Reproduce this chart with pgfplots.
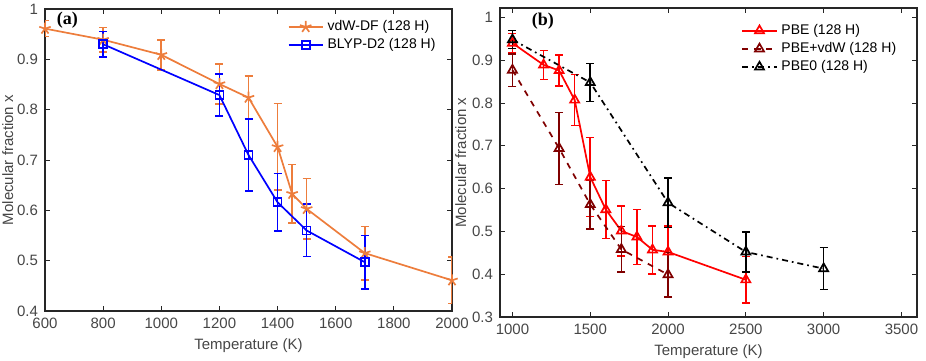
\documentclass[border=0pt]{standalone}
\usepackage{pgfplots}
\pgfplotsset{compat=1.18}
\usepackage{fontspec}
\setmainfont{Liberation Sans}
\newfontfamily\labfont{Liberation Serif}

\definecolor{axgray}{RGB}{38,38,38}
\definecolor{tkgray}{RGB}{70,70,70}
\definecolor{vdworange}{RGB}{237,125,60}
\definecolor{pbedark}{RGB}{128,0,0}

\pgfplotsset{
  matlab/.style={
    scale only axis,
    anchor=south west,
    axis line style={axgray, line width=0.6pt},
    tick style={axgray, line width=0.5pt},
    major tick length=2.5pt,
    tick align=inside,
    xtick pos=both, ytick pos=both,
    font=\fontsize{7.5}{9}\selectfont,
    tick label style={tkgray},
    label style={tkgray},
    /pgf/number format/assume math mode=true,
    /pgf/number format/1000 sep={},
    /pgf/number format/fixed,
    xlabel={Temperature (K)},
    ylabel={Molecular fraction x},
    xlabel style={yshift=2pt},
    legend cell align=left,
    legend style={draw=none, fill=none, font=\fontsize{7}{8.5}\selectfont,
      row sep=-1.5pt},
    every axis plot/.append style={line width=0.85pt},
    error bars/error bar style={line width=0.8pt, solid},
    error bars/error mark=-,
    error bars/error mark options={rotate=90, line width=0.8pt, mark size=2pt, solid},
  },
}

\begin{document}
\begin{tikzpicture}
\path[use as bounding box] (0pt,0pt) rectangle (463pt,180pt);

% ---- panel (a)
\begin{axis}[matlab,
  at={(22.5pt,24.5pt)}, width=203.5pt, height=151pt,
  xmin=600, xmax=2000, ymin=0.4, ymax=1,
  xtick={600,800,...,2000}, ytick={0.4,0.5,...,1.0},
  ylabel style={yshift=-5pt},
  legend style={at={(0.985,0.99)}, anchor=north east},
]
\addplot[color=vdworange, mark=star, mark size=3pt,
  error bars/.cd, y dir=both, y explicit]
  table[x=T, y=x, y error=e] {
T    x     e
600  0.961 0.016
800  0.939 0.024
1000 0.909 0.030
1200 0.851 0.040
1300 0.824 0.043
1400 0.726 0.086
1450 0.633 0.058
1500 0.603 0.060
1700 0.515 0.053
2000 0.461 0.046
};
\addlegendentry{vdW-DF (128 H)}
\addplot[color=blue, mark=square, mark size=2pt,
  error bars/.cd, y dir=both, y explicit]
  table[x=T, y=x, y error=e] {
T    x     e
800  0.930 0.025
1200 0.829 0.042
1300 0.710 0.072
1400 0.616 0.057
1500 0.560 0.052
1700 0.497 0.053
};
\addlegendentry{BLYP-D2 (128 H)}
\node[font=\labfont\bfseries\fontsize{9}{10}\selectfont, black]
  at (rel axis cs:0.055,0.962) {(a)};
\end{axis}

% ---- panel (b)
\begin{axis}[matlab,
  at={(250pt,21.5pt)}, width=208.5pt, height=154.5pt,
  xmin=920, xmax=3600, ymin=0.3, ymax=1.022,
  xtick={1000,1500,...,3500}, ytick={0.3,0.4,...,1.0},
  ylabel style={yshift=-4pt},
  legend style={at={(0.975,0.975)}, anchor=north east},
]
\addplot[color=red, mark=triangle, mark size=2.6pt,
  error bars/.cd, y dir=both, y explicit]
  table[x=T, y=x, y error=e] {
T    x     e
1000 0.940 0.022
1200 0.889 0.034
1300 0.876 0.036
1400 0.807 0.060
1500 0.627 0.092
1600 0.551 0.068
1700 0.501 0.059
1800 0.487 0.064
1900 0.457 0.056
2000 0.452 0.060
2500 0.387 0.054
};
\addlegendentry{PBE (128 H)}
\addplot[color=pbedark, dashed, mark=triangle, mark size=2.6pt,
  mark options={solid},
  error bars/.cd, y dir=both, y explicit]
  table[x=T, y=x, y error=e] {
T    x     e
1000 0.877 0.038
1300 0.694 0.084
1500 0.563 0.057
1700 0.458 0.053
2000 0.399 0.052
};
\addlegendentry{PBE+vdW (128 H)}
\addplot[color=black, dash dot, mark=triangle, mark size=2.6pt,
  mark options={solid},
  error bars/.cd, y dir=both, y explicit]
  table[x=T, y=x, y error=e] {
T    x     e
1000 0.948 0.021
1500 0.848 0.044
2000 0.567 0.058
2500 0.452 0.047
3000 0.413 0.049
};
\addlegendentry{PBE0 (128 H)}
\node[font=\labfont\bfseries\fontsize{9}{10}\selectfont, black]
  at (rel axis cs:0.103,0.958) {(b)};
\end{axis}
\end{tikzpicture}
\end{document}
